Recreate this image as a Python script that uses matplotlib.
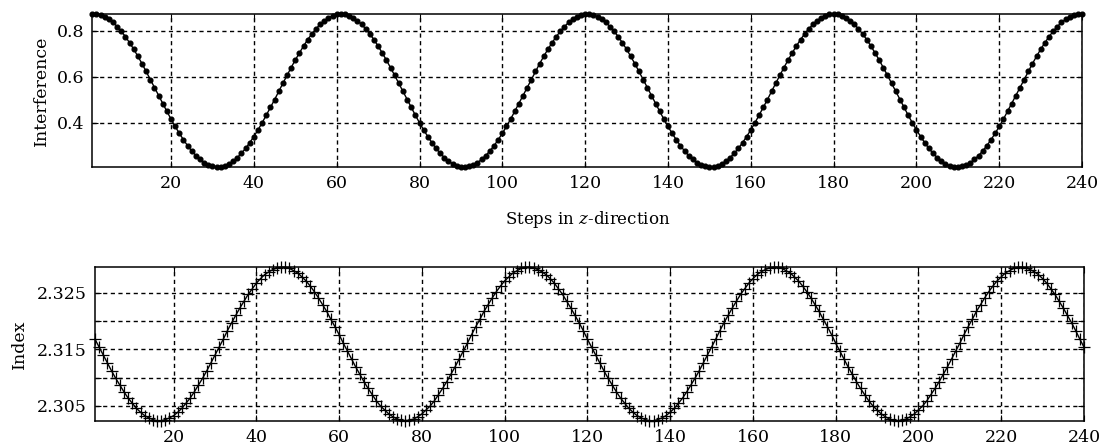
import matplotlib
matplotlib.use('Agg')
import matplotlib.pyplot as plt
import numpy as np

plt.rcParams['font.family'] = ['DejaVu Serif']
plt.rcParams['mathtext.fontset'] = 'dejavuserif'

# z-steps along the sample
steps = np.arange(1, 241)

# interference signal at each step
interference = [
    0.874,
    0.874, 0.870, 0.862, 0.851, 0.837, 0.819, 0.798, 0.775, 0.748, 0.720,
    0.689, 0.657, 0.623, 0.588, 0.553, 0.518, 0.483, 0.449, 0.415, 0.383,
    0.353, 0.325, 0.299, 0.276, 0.256, 0.239, 0.225, 0.215, 0.209, 0.206,
    0.207, 0.212, 0.220, 0.232, 0.247, 0.266, 0.287, 0.312, 0.339, 0.368,
    0.399, 0.432, 0.466, 0.500, 0.536, 0.571, 0.606, 0.640, 0.673, 0.704,
    0.734, 0.762, 0.787, 0.809, 0.829, 0.845, 0.857, 0.867, 0.872,
    0.874,
    0.872, 0.867, 0.857, 0.845, 0.829, 0.809, 0.787, 0.762, 0.734, 0.704,
    0.673, 0.640, 0.606, 0.571, 0.536, 0.500, 0.466, 0.432, 0.399, 0.368,
    0.339, 0.312, 0.287, 0.266, 0.247, 0.232, 0.220, 0.212, 0.207,
    0.206, 0.209, 0.215, 0.225, 0.239, 0.256, 0.276, 0.299, 0.325, 0.353,
    0.383, 0.415, 0.449, 0.483, 0.518, 0.553, 0.588, 0.623, 0.657, 0.689,
    0.720, 0.748, 0.775, 0.798, 0.819, 0.837, 0.851, 0.862, 0.870, 0.874,
    0.874, 0.870, 0.862, 0.851, 0.837, 0.819, 0.798, 0.775, 0.748, 0.720,
    0.689, 0.657, 0.623, 0.588, 0.553, 0.518, 0.483, 0.449, 0.415, 0.383,
    0.353, 0.325, 0.299, 0.276, 0.256, 0.239, 0.225, 0.215, 0.209, 0.206,
    0.207, 0.212, 0.220, 0.232, 0.247, 0.266, 0.287, 0.312, 0.339, 0.368,
    0.399, 0.432, 0.466, 0.500, 0.536, 0.571, 0.606, 0.640, 0.673, 0.704,
    0.734, 0.762, 0.787, 0.809, 0.829, 0.845, 0.857, 0.867, 0.872,
    0.874,
    0.872, 0.867, 0.857, 0.845, 0.829, 0.809, 0.787, 0.762, 0.734, 0.704,
    0.673, 0.640, 0.606, 0.571, 0.536, 0.500, 0.466, 0.432, 0.399, 0.368,
    0.339, 0.312, 0.287, 0.266, 0.247, 0.232, 0.220, 0.212, 0.207,
    0.206, 0.209, 0.215, 0.225, 0.239, 0.256, 0.276, 0.299, 0.325, 0.353,
    0.383, 0.415, 0.449, 0.483, 0.518, 0.553, 0.588, 0.623, 0.657, 0.689,
    0.720, 0.748, 0.775, 0.798, 0.819, 0.837, 0.851, 0.862, 0.870, 0.874,
    0.874,
]

# refractive index at each step
index = [
    2.3168, 2.3154, 2.3140, 2.3126, 2.3112, 2.3099, 2.3087, 2.3075, 2.3064, 2.3055,
    2.3046, 2.3039, 2.3033, 2.3029, 2.3026,
    2.3024,
    2.3024, 2.3026, 2.3029, 2.3033, 2.3039, 2.3046, 2.3055, 2.3064, 2.3075, 2.3087,
    2.3099, 2.3112, 2.3126, 2.3140, 2.3154, 2.3168, 2.3183, 2.3197, 2.3210, 2.3223,
    2.3235, 2.3247, 2.3257, 2.3267, 2.3275, 2.3282, 2.3287, 2.3291, 2.3294, 2.3295,
    2.3295, 2.3293, 2.3289, 2.3285, 2.3278, 2.3271, 2.3262, 2.3252, 2.3241, 2.3229,
    2.3217, 2.3203, 2.3190, 2.3176, 2.3161, 2.3147, 2.3133, 2.3119, 2.3106, 2.3093,
    2.3081, 2.3070, 2.3059, 2.3050, 2.3043, 2.3036, 2.3031, 2.3027, 2.3025,
    2.3024,
    2.3025, 2.3027, 2.3031, 2.3036, 2.3043, 2.3050, 2.3059, 2.3070, 2.3081, 2.3093,
    2.3106, 2.3119, 2.3133, 2.3147, 2.3161, 2.3176, 2.3190, 2.3203, 2.3217, 2.3229,
    2.3241, 2.3252, 2.3262, 2.3271, 2.3278, 2.3285, 2.3289, 2.3293, 2.3295,
    2.3295, 2.3294, 2.3291, 2.3287, 2.3282, 2.3275, 2.3267, 2.3257, 2.3247, 2.3235,
    2.3223, 2.3210, 2.3197, 2.3183, 2.3168, 2.3154, 2.3140, 2.3126, 2.3112, 2.3099,
    2.3087, 2.3075, 2.3064, 2.3055, 2.3046, 2.3039, 2.3033, 2.3029, 2.3026, 2.3024,
    2.3024, 2.3026, 2.3029, 2.3033, 2.3039, 2.3046, 2.3055, 2.3064, 2.3075, 2.3087,
    2.3099, 2.3112, 2.3126, 2.3140, 2.3154, 2.3168, 2.3183, 2.3197, 2.3210, 2.3223,
    2.3235, 2.3247, 2.3257, 2.3267, 2.3275, 2.3282, 2.3287, 2.3291, 2.3294, 2.3295,
    2.3295, 2.3293, 2.3289, 2.3285, 2.3278, 2.3271, 2.3262, 2.3252, 2.3241, 2.3229,
    2.3217, 2.3203, 2.3190, 2.3176, 2.3161, 2.3147, 2.3133, 2.3119, 2.3106, 2.3093,
    2.3081, 2.3070, 2.3059, 2.3050, 2.3043, 2.3036, 2.3031, 2.3027, 2.3025,
    2.3024,
    2.3025, 2.3027, 2.3031, 2.3036, 2.3043, 2.3050, 2.3059, 2.3070, 2.3081, 2.3093,
    2.3106, 2.3119, 2.3133, 2.3147, 2.3161, 2.3176, 2.3190, 2.3203, 2.3217, 2.3229,
    2.3241, 2.3252, 2.3262, 2.3271, 2.3278, 2.3285, 2.3289, 2.3293, 2.3295,
    2.3295, 2.3294, 2.3291, 2.3287, 2.3282, 2.3275, 2.3267, 2.3257, 2.3247, 2.3235,
    2.3223, 2.3210, 2.3197, 2.3183, 2.3168, 2.3154,
]

x_ticks = [20, 40, 60, 80, 100, 120, 140, 160, 180, 200, 220, 240]
interf_ticks = [0.4, 0.6, 0.8]
index_ticks = [2.305, 2.310, 2.315, 2.320, 2.325]
index_ticklabels = ['2.305', '', '2.315', '', '2.325']

interference = np.array(interference)
index = np.array(index)

fig = plt.figure(figsize=(11.06, 4.47), dpi=100)
ax1 = fig.add_axes([0.0835, 0.6264, 0.8949, 0.3423])
ax2 = fig.add_axes([0.0859, 0.0588, 0.8942, 0.3432])

grid_style = dict(color='black', linestyle=(0, (3, 2.5)), linewidth=1.0)

# ========== interference ==========
ax1.plot(steps, interference, color='black', linewidth=1.0,
         marker='o', markersize=3.4, clip_on=False, zorder=3)
ax1.set_xlim(steps[0], steps[-1])
ax1.set_ylim(interference.min(), interference.max())
ax1.set_xticks(x_ticks)
ax1.set_yticks(interf_ticks)
ax1.set_ylabel('Interference', fontsize=12.5, va='center')
ax1.yaxis.set_label_coords(-0.051, 0.5)
ax1.set_xlabel(r'Steps in $\it{z}$-direction', fontsize=12, labelpad=12)
ax1.grid(True, **grid_style)

# ========== refractive index ==========
ax2.plot(steps, index, color='black', linewidth=1.0,
         marker='+', markersize=9, markeredgewidth=0.9, clip_on=False, zorder=3)
ax2.set_xlim(steps[0], steps[-1])
ax2.set_ylim(index.min(), index.max())
ax2.set_xticks(x_ticks)
ax2.set_yticks(index_ticks)
ax2.set_yticklabels(index_ticklabels)
ax2.set_ylabel('Index', fontsize=12.5, va='center')
ax2.yaxis.set_label_coords(-0.076, 0.5)
ax2.grid(True, **grid_style)

for ax in (ax1, ax2):
    ax.tick_params(direction='in', length=4, top=True, right=True,
                   labelsize=12.5, pad=6)
    for spine in ax.spines.values():
        spine.set_linewidth(1.1)
    ax.set_axisbelow(True)

fig.savefig('out.png', dpi=100, facecolor='white')
